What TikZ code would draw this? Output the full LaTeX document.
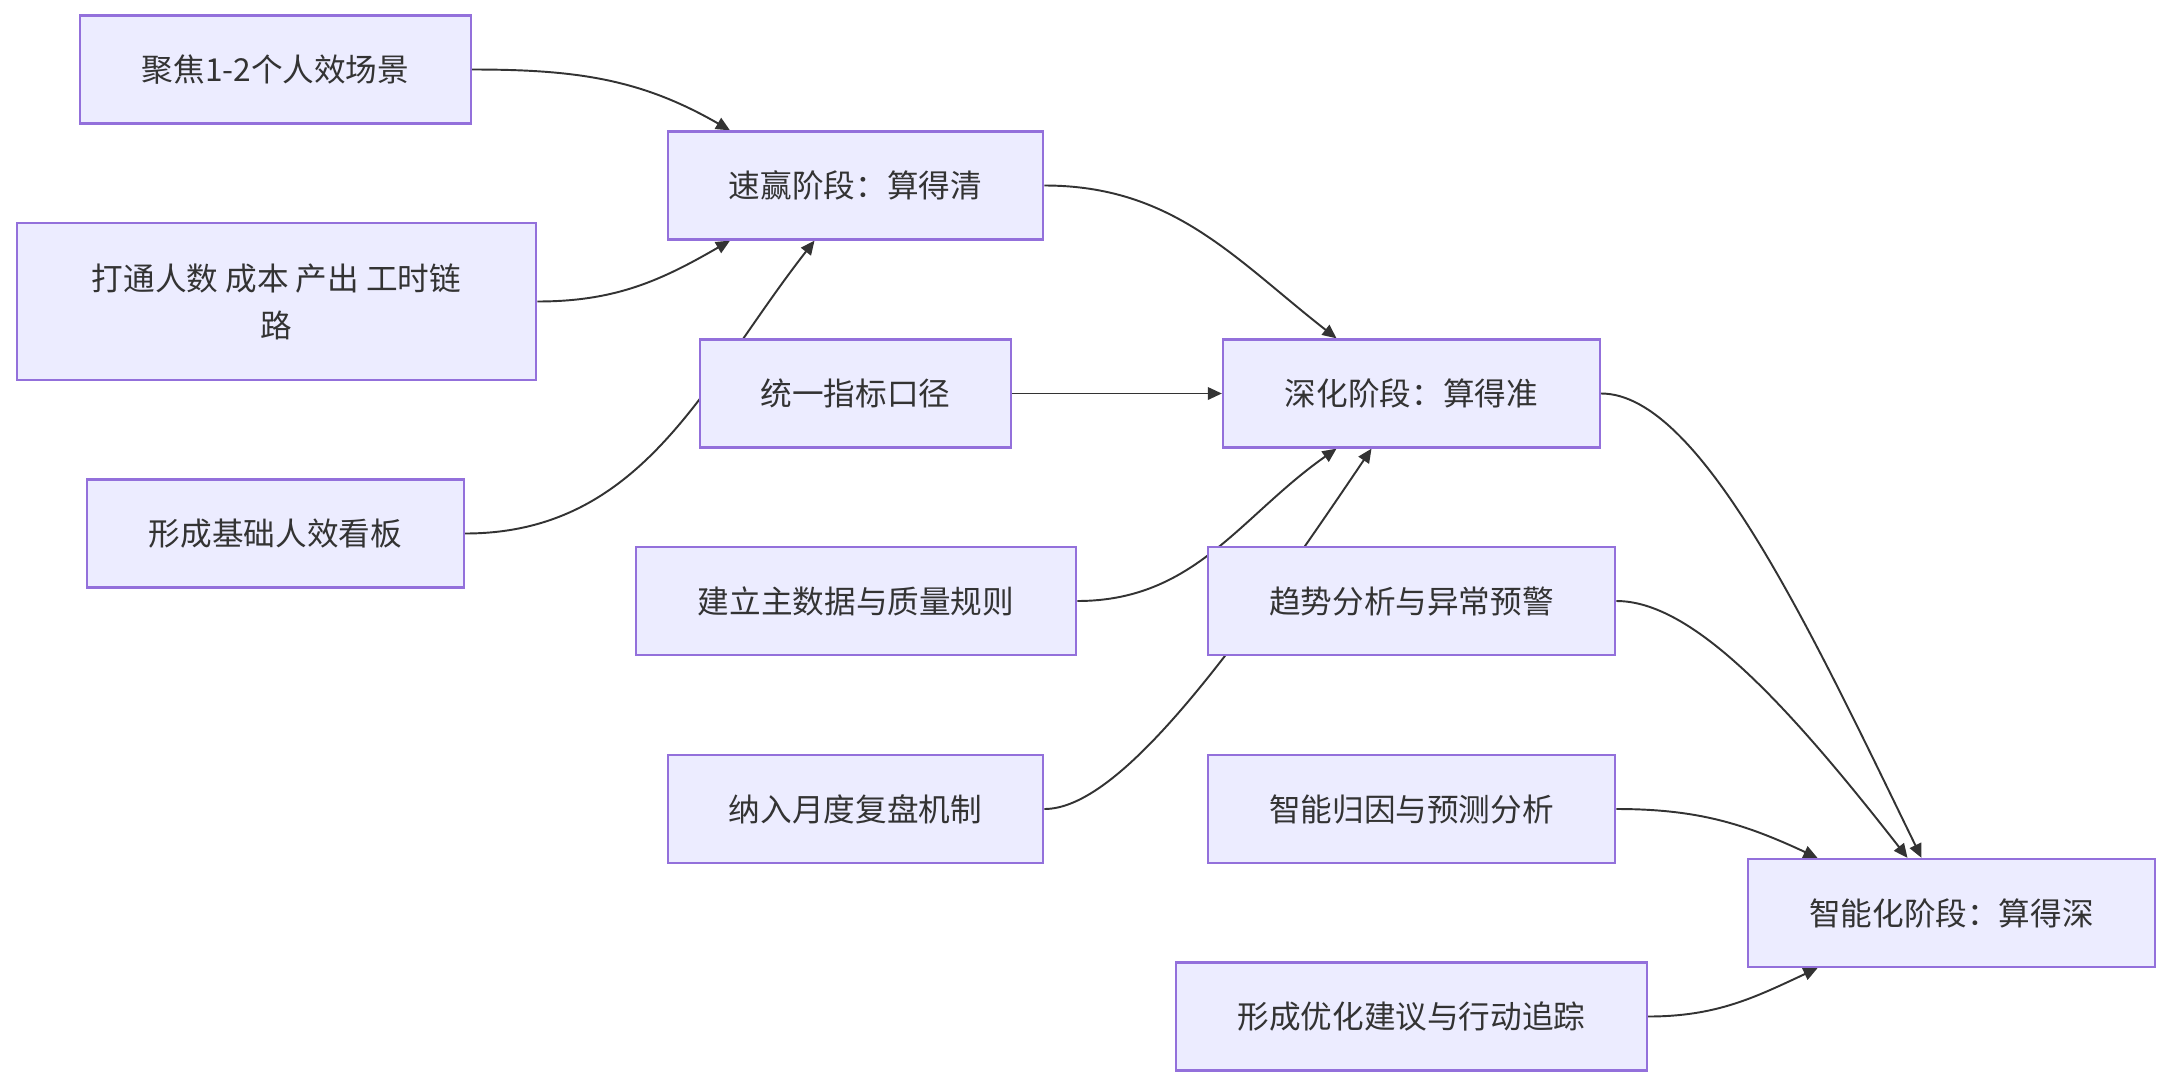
\documentclass[tikz,border=0pt]{standalone}
\usepackage{fontspec}
\newfontfamily\cjk{Noto Sans CJK SC}
\usetikzlibrary{arrows.meta,backgrounds}
\definecolor{boxfill}{HTML}{ECECFF}
\definecolor{boxline}{HTML}{9370DB}
\definecolor{linegray}{HTML}{333333}
\tikzset{box/.style={draw=boxline,line width=1.3pt,fill=boxfill,align=center,
  minimum height=2.16cm,inner sep=0pt,text=linegray,font=\cjk\fontsize{18}{26.8}\selectfont},
  arrow/.style={-{Triangle[length=0.28cm,width=0.25cm]},line width=1.1pt,draw=linegray}}

\begin{document}
\begin{tikzpicture}
\useasboundingbox (0,0) rectangle (43.44,-21.76);
\node[box,minimum width=7.81cm] (focus) at (5.51,-1.39) {聚焦1-2个人效场景};
\node[box,minimum width=7.51cm] (quick) at (17.11,-3.71) {速赢阶段：算得清};
\node[box,minimum width=10.39cm,minimum height=3.13cm] (link) at (5.53,-6.03) {打通人数 成本 产出 工时链\\路};
\node[box,minimum width=6.23cm] (metric) at (17.11,-7.87) {统一指标口径};
\node[box,minimum width=7.54cm] (board) at (5.51,-10.67) {形成基础人效看板};
\node[box,minimum width=7.54cm] (deep) at (28.23,-7.87) {深化阶段：算得准};
\node[box,minimum width=8.81cm] (master) at (17.12,-12.02) {建立主数据与质量规则};
\node[box,minimum width=8.15cm] (trend) at (28.23,-12.02) {趋势分析与异常预警};
\node[box,minimum width=7.51cm] (review) at (17.11,-16.18) {纳入月度复盘机制};
\node[box,minimum width=8.15cm] (cause) at (28.23,-16.18) {智能归因与预测分析};
\node[box,minimum width=8.15cm] (smart) at (39.03,-18.26) {智能化阶段：算得深};
\node[box,minimum width=9.42cm] (action) at (28.23,-20.33) {形成优化建议与行动追踪};
\begin{scope}[on background layer]
\draw[arrow] (focus.east) to[out=0,in=150] ([xshift=-2.51cm]quick.north);
\draw[arrow] (link.east) to[out=0,in=-150] ([xshift=-2.51cm]quick.south);
\draw[arrow] (board.east) to[out=0,in=-128] ([xshift=-0.82cm]quick.south);
\draw[arrow] (metric.east) -- (deep.west);
\draw[arrow] (quick.east) to[out=0,in=142] ([xshift=-1.50cm]deep.north);
\draw[arrow] (master.east) to[out=0,in=-145] ([xshift=-1.50cm]deep.south);
\draw[arrow] (review.east) to[out=0,in=-124,out distance=1.5cm,in distance=5cm] ([xshift=-0.80cm]deep.south);
\draw[arrow] (deep.east) to[out=0,in=116,out distance=2cm,in distance=5cm] ([xshift=-0.60cm]smart.north);
\draw[arrow] (trend.east) to[out=0,in=128,out distance=1.5cm,in distance=4cm] ([xshift=-0.88cm]smart.north);
\draw[arrow] (cause.east) to[out=0,in=155] ([xshift=-2.68cm]smart.north);
\draw[arrow] (action.east) to[out=0,in=-155] ([xshift=-2.68cm]smart.south);
\end{scope}
\end{tikzpicture}
\end{document}
